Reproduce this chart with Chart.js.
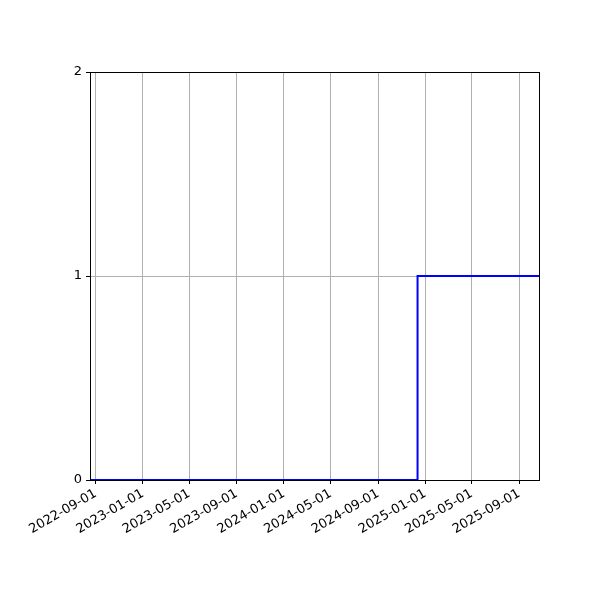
<!DOCTYPE html>
<html>
<head>
<meta charset="utf-8">
<script src="https://cdn.jsdelivr.net/npm/chart.js@4/dist/chart.umd.min.js"></script>
<style>
  html, body { margin: 0; padding: 0; background: #fff; }
  #wrap { width: 600px; height: 600px; }
</style>
</head>
<body>
<div id="wrap"><canvas id="stepChart" width="600" height="600"></canvas></div>
<script>
// data
var stepDates = ['2022-08-17', '2024-12-12', '2025-10-25'];
var stepValues = [0, 1, 1];
var xTickDates = ['2022-09-01', '2023-01-01', '2023-05-01', '2023-09-01', '2024-01-01',
                  '2024-05-01', '2024-09-01', '2025-01-01', '2025-05-01', '2025-09-01'];
var yTicks = [0, 1, 2];

var pontos = stepDates.map(function (d, i) {
    return { x: Date.parse(d), y: stepValues[i] };
});

// moldura preta em volta da area do grafico
var frame = {
    id: 'frame',
    afterDraw: function (chart) {
        var a = chart.chartArea;
        var ctx = chart.ctx;
        ctx.save();
        ctx.strokeStyle = '#000';
        ctx.lineWidth = 1;
        ctx.strokeRect(a.left + 0.5, a.top + 0.5, a.right - a.left - 1, a.bottom - a.top);
        ctx.restore();
    }
};

Chart.defaults.font.family = 'DejaVu Sans';
Chart.defaults.font.size = 13;
Chart.defaults.color = '#000';

var ctx = document.getElementById('stepChart').getContext('2d');
new Chart(ctx, {
    type: 'line',
    data: {
        datasets: [{
            data: pontos,
            stepped: true,
            borderColor: '#0000ff',
            borderWidth: 2,
            pointRadius: 0,
            fill: false
        }]
    },
    plugins: [frame],
    options: {
        responsive: false,
        animation: false,
        layout: { padding: { left: 0, top: 72, right: 60, bottom: 0 } },
        plugins: {
            legend: { display: false },
            tooltip: { enabled: false }
        },
        scales: {
            x: {
                type: 'linear',
                min: Date.parse(stepDates[0]),
                max: Date.parse(stepDates[stepDates.length - 1]),
                afterBuildTicks: function (scale) {
                    scale.ticks = xTickDates.map(function (d) { return { value: Date.parse(d) }; });
                },
                afterFit: function (scale) { scale.height = 120; },
                border: { display: false },
                grid: { color: '#b0b0b0', lineWidth: 1, tickColor: '#000', tickLength: 4 },
                ticks: {
                    autoSkip: false,
                    minRotation: 30,
                    maxRotation: 30,
                    padding: 2,
                    callback: function (v) {
                        return new Date(v).toISOString().slice(0, 10);
                    }
                }
            },
            y: {
                min: 0,
                max: 2,
                afterBuildTicks: function (scale) {
                    scale.ticks = yTicks.map(function (v) { return { value: v }; });
                },
                afterFit: function (scale) { scale.width = 90; },
                border: { display: false },
                grid: { color: '#b0b0b0', lineWidth: 1, tickColor: '#000', tickLength: 4 },
                ticks: { padding: 4 }
            }
        }
    }
});
</script>
</body>
</html>
